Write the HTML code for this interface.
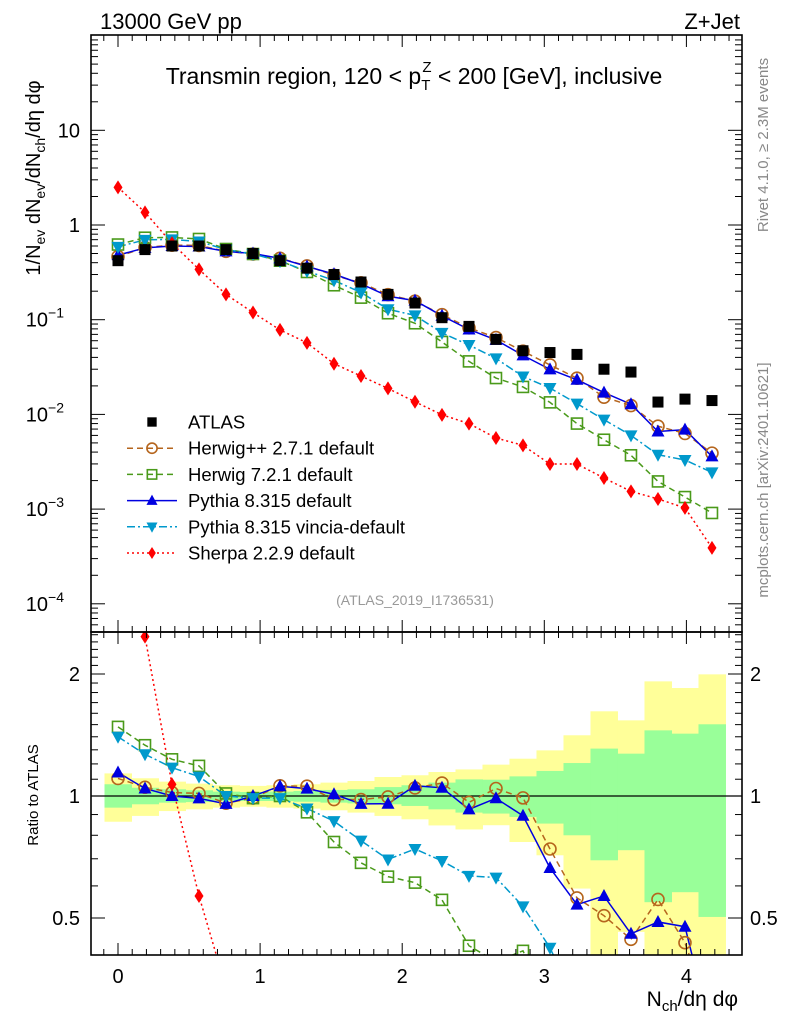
<!DOCTYPE html>
<html><head><meta charset="utf-8"><style>
html,body{margin:0;padding:0;background:#fff;width:786px;height:1024px;overflow:hidden;}
svg{display:block;font-family:"Liberation Sans",sans-serif;}
</style></head><body>
<svg id="c" width="786" height="1024" viewBox="0 0 786 1024" xmlns="http://www.w3.org/2000/svg">
<defs>
<clipPath id="cm"><rect x="91" y="35" width="651" height="597"/></clipPath>
<clipPath id="cr"><rect x="91" y="632" width="651" height="323"/></clipPath>
</defs>
<g id="bands" clip-path="url(#cr)"></g>
<g id="mainMarks" clip-path="url(#cm)"></g>
<g id="ratioMarks" clip-path="url(#cr)"></g>
<g id="axes"></g>
<text x="100" y="29" font-size="22">13000 GeV pp</text>
<text x="740" y="29" font-size="22" text-anchor="end">Z+Jet</text>
<text x="414" y="84" font-size="23" text-anchor="middle">Transmin region, 120 &lt; p<tspan font-size="15" dy="6">T</tspan><tspan font-size="15" dx="-8" dy="-18">Z</tspan><tspan dy="12"> &lt; 200 [GeV], inclusive</tspan></text>
<text transform="translate(40,178) rotate(-90)" font-size="20" text-anchor="middle">1/N<tspan font-size="14" dy="5">ev</tspan><tspan dy="-5"> dN</tspan><tspan font-size="14" dy="5">ev</tspan><tspan dy="-5">/dN</tspan><tspan font-size="14" dy="5">ch</tspan><tspan dy="-5">/dη dφ</tspan></text>
<text transform="translate(38,795) rotate(-90)" font-size="15" text-anchor="middle">Ratio to ATLAS</text>
<text x="738" y="1006" font-size="21" text-anchor="end">N<tspan font-size="15" dy="5">ch</tspan><tspan dy="-5">/dη dφ</tspan></text>
<text transform="translate(768,145) rotate(-90)" font-size="15" fill="#888" text-anchor="middle">Rivet 4.1.0, ≥ 2.3M events</text>
<text transform="translate(768,480) rotate(-90)" font-size="15" fill="#888" text-anchor="middle">mcplots.cern.ch [arXiv:2401.10621]</text>
<text x="415" y="605" font-size="14" fill="#999" text-anchor="middle">(ATLAS_2019_I1736531)</text>
<g id="legend"></g>
</svg>
<script>
const xs = [0,0.19,0.38,0.57,0.76,0.95,1.14,1.33,1.52,1.71,1.9,2.09,2.28,2.47,2.66,2.85,3.04,3.23,3.42,3.61,3.8,3.99,4.18];
const atlas = [0.42,0.55,0.60,0.60,0.55,0.50,0.42,0.35,0.30,0.25,0.185,0.15,0.105,0.085,0.062,0.047,0.045,0.043,0.030,0.028,0.0135,0.0145,0.014];
const herwigpp = [0.464,0.578,0.612,0.609,0.528,0.494,0.445,0.370,0.294,0.245,0.184,0.157,0.113,0.082,0.0647,0.0465,0.0333,0.0241,0.0152,0.0124,0.0075,0.0063,0.0039];
const herwig7 = [0.622,0.734,0.739,0.712,0.558,0.494,0.42,0.319,0.231,0.171,0.117,0.0917,0.0582,0.0363,0.0242,0.0195,0.0134,0.008,0.0054,0.0037,0.00196,0.00134,0.00091];
const pythia = [0.48,0.574,0.60,0.592,0.526,0.50,0.444,0.365,0.303,0.239,0.177,0.159,0.110,0.0788,0.0612,0.042,0.0299,0.0232,0.0170,0.0128,0.0066,0.0069,0.0036];
const vincia = [0.588,0.697,0.705,0.670,0.55,0.494,0.415,0.326,0.260,0.194,0.129,0.111,0.0726,0.054,0.039,0.0251,0.019,0.013,0.0088,0.006,0.00375,0.0033,0.00244];
const sherpa = [2.50,1.36,0.641,0.340,0.185,0.119,0.078,0.057,0.0343,0.0254,0.0188,0.0136,0.0099,0.008,0.00564,0.00471,0.00299,0.00299,0.00213,0.00154,0.00128,0.00103,0.00039];
const bandYUp = [1.137,1.106,1.085,1.073,1.063,1.059,1.063,1.069,1.079,1.089,1.114,1.125,1.146,1.163,1.195,1.236,1.296,1.412,1.618,1.537,1.918,1.847,1.996];
const bandYDn = [0.864,0.893,0.918,0.927,0.936,0.941,0.936,0.931,0.922,0.910,0.893,0.876,0.846,0.827,0.847,0.770,0.714,0.591,0.38,0.462,0.38,0.38,0.38];
const bandGUp = [1.069,1.048,1.039,1.033,1.025,1.023,1.025,1.029,1.035,1.039,1.052,1.063,1.079,1.099,1.097,1.118,1.153,1.206,1.309,1.272,1.452,1.425,1.503];
const bandGDn = [0.936,0.954,0.963,0.966,0.972,0.972,0.972,0.968,0.963,0.959,0.954,0.945,0.927,0.910,0.905,0.888,0.855,0.80,0.694,0.735,0.547,0.579,0.503];
const xTicks = [0,1,2,3,4];
const ratioTicks = [0.5,1,2];

const NS="http://www.w3.org/2000/svg";
const X = v => 118 + v*142.1;
const Y = v => 225 - Math.log10(v)*94.7;
const R = v => 796 - Math.log2(v)*122;
function el(tag, attrs, parent){const e=document.createElementNS(NS,tag);for(const k in attrs)e.setAttribute(k,attrs[k]);parent.appendChild(e);return e;}
const axes=document.getElementById('axes'), bands=document.getElementById('bands');
const mm=document.getElementById('mainMarks'), rm=document.getElementById('ratioMarks'), lg=document.getElementById('legend');

const hw=0.095;
xs.forEach((x,i)=>{
  const y=el('rect',{x:X(x-hw),y:R(bandYUp[i]),width:X(x+hw)-X(x-hw)+0.5,height:R(bandYDn[i])-R(bandYUp[i]),fill:'#ffff99'},bands);
  
  
});
xs.forEach((x,i)=>{
  const g=el('rect',{x:X(x-hw),y:R(bandGUp[i]),width:X(x+hw)-X(x-hw)+0.5,height:R(bandGDn[i])-R(bandGUp[i]),fill:'#99ff99'},bands);
  
  
});
const one=el('line',{x1:91,x2:742,y1:R(1),y2:R(1),stroke:'#000','stroke-width':1.3},bands);



[[35,632],[632,955]].forEach(([t,b])=>{
  const f=el('rect',{x:91,y:t,width:651,height:b-t,fill:'none',stroke:'#000','stroke-width':1.6},axes);
  
  
});
for(let k=-1;k<=43;k++){
  const v=k/10, px=X(v); if(px<92||px>741) continue;
  const major=(k%10===0), L=major?12:6;
  [[632,955],[35,632]].forEach(([t,b])=>{
    el('line',{x1:px,x2:px,y1:b,y2:b-L,stroke:'#000','stroke-width':1},axes);
    el('line',{x1:px,x2:px,y1:t,y2:t+L,stroke:'#000','stroke-width':1},axes);
  });
}
xTicks.forEach(v=>{
  const t=el('text',{x:X(v),y:983,'font-size':20,'text-anchor':'middle'},axes);
  t.textContent=v;
  
  
});
for(let d=-5;d<=2;d++){
  for(let m=1;m<=9;m++){
    const v=m*Math.pow(10,d), py=Y(v); if(py<36||py>631) continue;
    const L=m===1?14:7;
    el('line',{x1:91,x2:91+L,y1:py,y2:py,stroke:'#000','stroke-width':1},axes);
    el('line',{x1:742,x2:742-L,y1:py,y2:py,stroke:'#000','stroke-width':1},axes);
  }
}
const yLabs=[[10,'10'],[1,'1'],[0.1,'10','−1'],[0.01,'10','−2'],[0.001,'10','−3'],[0.0001,'10','−4']];
yLabs.forEach(l=>{
  const t=el('text',{x:l[2]?64:80,y:Y(l[0])+7,'font-size':20,'text-anchor':'end'},axes);
  
  
  if(l[2]){t.textContent=l[1];const s=el('tspan',{'font-size':14,dy:-9},t);s.textContent=l[2];}
  else t.textContent=l[1];
});
for(let k=4;k<=25;k++){
  const v=k/10, py=R(v); if(py<633||py>954) continue;
  const major=(k===5||k===10||k===20), L=major?14:7;
  el('line',{x1:91,x2:91+L,y1:py,y2:py,stroke:'#000','stroke-width':1},axes);
  el('line',{x1:742,x2:742-L,y1:py,y2:py,stroke:'#000','stroke-width':1},axes);
}
ratioTicks.forEach(v=>{
  [[80,'end'],[750,'start']].forEach(([x,a])=>{
    const t=el('text',{x:x,y:R(v)+7,'font-size':20,'text-anchor':a},axes);
    t.textContent=String(v);
    
    
  });
});

function marker(type,color,cx,cy,parent,s){
  s=s||1;let e;
  if(type==='sq') e=el('rect',{x:cx-5.5*s,y:cy-5.5*s,width:11*s,height:11*s,fill:color},parent);
  else if(type==='osq') e=el('rect',{x:cx-5.5*s,y:cy-5.5*s,width:11*s,height:11*s,fill:'none',stroke:color,'stroke-width':1.6},parent);
  else if(type==='oc') e=el('circle',{cx:cx,cy:cy,r:6*s,fill:'none',stroke:color,'stroke-width':1.6},parent);
  else if(type==='tu') e=el('polygon',{points:`${cx},${cy-7*s} ${cx-6.5*s},${cy+5*s} ${cx+6.5*s},${cy+5*s}`,fill:color},parent);
  else if(type==='td') e=el('polygon',{points:`${cx},${cy+7*s} ${cx-6.5*s},${cy-5*s} ${cx+6.5*s},${cy-5*s}`,fill:color},parent);
  else e=el('polygon',{points:`${cx},${cy-7*s} ${cx-4.5*s},${cy} ${cx},${cy+7*s} ${cx+4.5*s},${cy}`,fill:color},parent);
  return e;
}
const series=[
 {name:'herwigpp',vals:herwigpp,type:'oc',color:'#b5651d',dash:'6,4',label:'Herwig++ 2.7.1 default'},
 {name:'herwig7',vals:herwig7,type:'osq',color:'#4a9a1a',dash:'6,4',label:'Herwig 7.2.1 default'},
 {name:'pythia',vals:pythia,type:'tu',color:'#0000e0',dash:'',label:'Pythia 8.315 default'},
 {name:'vincia',vals:vincia,type:'td',color:'#0099cc',dash:'8,3,2,3',label:'Pythia 8.315 vincia-default'},
 {name:'sherpa',vals:sherpa,type:'dm',color:'#ff0000',dash:'2,3',label:'Sherpa 2.2.9 default'}
];
series.forEach(s=>{
  const pm=xs.map((x,i)=>X(x)+','+Y(s.vals[i])).join(' ');
  const l=el('polyline',{points:pm,fill:'none',stroke:s.color,'stroke-width':1.5,'stroke-dasharray':s.dash},mm);
  
  
  const pr=xs.map((x,i)=>X(x)+','+R(s.vals[i]/atlas[i])).join(' ');
  const lr=el('polyline',{points:pr,fill:'none',stroke:s.color,'stroke-width':1.5,'stroke-dasharray':s.dash},rm);
  
  
});
series.forEach(s=>{
  xs.forEach((x,i)=>{
    const m=marker(s.type,s.color,X(x),Y(s.vals[i]),mm);
    
    
    const r=marker(s.type,s.color,X(x),R(s.vals[i]/atlas[i]),rm);
    
    
  });
});
xs.forEach((x,i)=>{
  const m=marker('sq','#000',X(x),Y(atlas[i]),mm);
  
  
});

const ly0=422, ldy=26.2;
const le=marker('sq','#000',152,ly0,lg,0.85);


const lt=el('text',{x:188,y:ly0+6.5,'font-size':18.5},lg);
lt.textContent='ATLAS';


series.forEach((s,k)=>{
  const y=ly0+ldy*(k+1);
  el('line',{x1:127,x2:177,y1:y,y2:y,stroke:s.color,'stroke-width':1.5,'stroke-dasharray':s.dash},lg);
  marker(s.type,s.color,152,y,lg,0.85);
  const t=el('text',{x:188,y:y+6.5,'font-size':18.5},lg);
  t.textContent=s.label;
  
  
});
</script>
</body></html>
